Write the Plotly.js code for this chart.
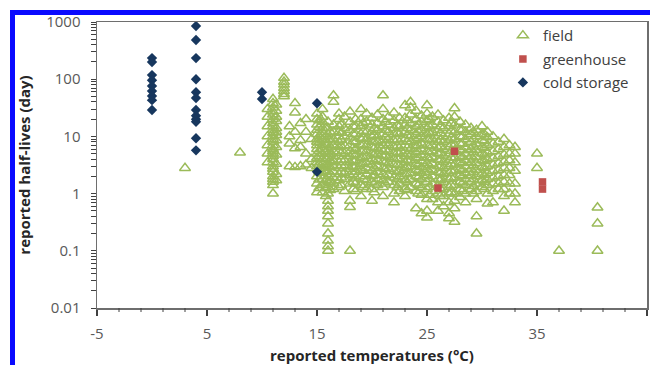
<!DOCTYPE html>
<html><head><meta charset="utf-8">
<script src="https://cdn.plot.ly/plotly-3.0.1.min.js"></script>
<style>
html,body{margin:0;padding:0;background:#fff;overflow:hidden;width:650px;height:365px;}
#chart{position:absolute;left:0;top:0;width:650px;height:365px;}
#frame{position:absolute;left:10px;top:10px;width:700px;height:400px;border-left:5px solid #0a0aff;border-top:5px solid #0a0aff;pointer-events:none;}
</style></head><body>
<div id="chart"></div><div id="frame"></div>
<script>
// ---- data ----
const fieldColumnTemps = [3, 8, 10.5, 11, 12, 12.5, 13, 13.5, 14, 14.5, 15, 15.5, 16, 16.5, 17, 17.5, 18, 18.5, 19, 19.5,
  20, 20.5, 21, 21.5, 22, 22.5, 23, 23.5, 24, 24.5, 25, 25.5, 26, 26.5, 27, 27.5, 28, 28.5, 29, 29.5,
  30, 30.5, 31, 31.5, 32, 32.5, 33, 35, 37, 40.5,
  15.8, 16.2, 17.2, 18.3, 19.2, 20.2, 21.2, 22.3, 23.2, 24.2, 25.2, 26.2, 27.2, 28.2, 29.2, 30.2, 11.3, 15.2];
const fieldColumnHalfLives = [
  [2.8],
  [5.2],
  [30, 22, 15, 10, 7, 5, 3.5],
  [45, 38, 32, 27, 24, 20, 17, 15, 13, 11.5, 10, 9, 8, 7, 6, 5.5, 5, 4.5, 4, 3.5, 3, 2.7, 2.4, 2, 1.8, 1.6, 1.4, 1.0],
  [105, 90, 80, 70, 62, 55, 50],
  [15, 10, 7.5, 3],
  [38, 26, 12, 6.2, 2.9],
  [17, 8.6, 6.5, 3],
  [20, 12, 5, 3.2],
  [9, 4, 2.8],
  [25, 20, 16, 13, 11, 9, 8, 7, 6, 5, 4.2, 3.5, 3, 2, 1.5, 1.05],
  [30, 22, 18, 14, 12, 10, 8.5, 7, 6, 5, 4, 3.3, 2.8, 2.3, 1.8, 1.4, 1.05],
  [18, 14, 11, 9, 7.5, 6, 5, 4.2, 3.5, 3, 2.5, 2, 1.6, 1.3, 1.0, 0.75, 0.6, 0.5, 0.4, 0.3, 0.2, 0.15, 0.12, 0.1],
  [52, 40, 16, 12, 9, 7, 5.5, 4.5, 3.7, 3, 2.4, 1.9, 1.5, 1.2],
  [25, 20, 15, 12, 10, 8, 6.5, 5.5, 4.5, 3.5, 2.8, 2.2, 1.7, 1.3],
  [22, 14, 10, 7, 5, 3.8, 3, 2.3, 1.8, 1.1],
  [27, 18, 13, 9.5, 7, 5.5, 4.5, 3.5, 2.7, 2.1, 1.5, 0.75, 0.58, 0.1],
  [20, 15, 11, 8, 6, 4.8, 3.8, 3, 2.4, 1.9, 1.5, 1.1],
  [30, 20, 15, 11, 9, 7, 5.5, 4.2, 3.3, 2.6, 2, 1.4, 0.9],
  [25, 18, 12, 9, 7, 5.5, 4.5, 3.5, 2.8, 2.2, 1.7, 1.2],
  [21, 16, 12, 10, 8, 6.5, 5, 4, 3.2, 2.5, 2, 1.6, 1.2, 0.75],
  [24, 17, 13, 10, 8, 6, 4.8, 3.8, 3, 2.4, 1.8, 1.4],
  [52, 30, 20, 15, 11, 8.5, 7, 5.5, 4.5, 3.6, 2.8, 2.2, 1.7, 1.3, 0.9],
  [22, 16, 12, 9, 7, 5.5, 4.3, 3.4, 2.7, 2.1, 1.6],
  [26, 19, 14, 11, 8.5, 6.5, 5, 4, 3.2, 2.5, 1.9, 1.4, 1.0, 0.7],
  [21, 15, 11, 8, 6.3, 5, 4, 3.1, 2.5, 2, 1.5, 1.1],
  [35, 21, 16, 12, 9, 7, 5.5, 4.5, 3.5, 2.8, 2.2, 1.7, 1.2, 0.9],
  [40, 32, 24, 17, 13, 10, 8, 6, 4.8, 3.8, 3, 2.3, 1.8, 1.3],
  [28, 20, 15, 11, 8.5, 6.8, 5.3, 4.2, 3.3, 2.6, 2, 1.5, 1.1, 0.55],
  [23, 18, 13, 10, 7.5, 6, 4.7, 3.7, 2.9, 2.3, 1.8, 1.3, 0.95, 0.45],
  [35, 25, 19, 14, 11, 9, 7, 5.5, 4.3, 3.4, 2.7, 2.1, 1.6, 1.2, 0.8, 0.5, 0.38],
  [22, 16, 12, 9, 7, 5.5, 4.3, 3.3, 2.6, 2, 1.5, 1.1, 0.8],
  [24, 18, 13, 10, 8, 6.3, 5, 3.9, 3, 2.4, 1.8, 1.4, 1.0, 0.7, 0.5],
  [19, 14, 10, 8, 6, 4.6, 3.6, 2.8, 2.2, 1.6, 1.2, 0.9, 0.6],
  [21, 15, 11, 8.5, 6.5, 5, 3.8, 3, 2.3, 1.8, 1.3, 1.0, 0.7, 0.45, 0.37],
  [31, 22, 16, 12, 9, 7, 5.5, 4.2, 3.2, 2.5, 1.9, 1.4, 1.0, 0.75, 0.55, 0.32],
  [18, 13, 10, 7.5, 5.8, 4.5, 3.5, 2.7, 2.1, 1.6, 1.2, 0.87],
  [16, 12, 9, 6.5, 5, 3.8, 3, 2.3, 1.8, 1.4, 1.0, 0.7],
  [14, 11, 8, 6, 4.5, 3.5, 2.7, 2.1, 1.6, 1.2],
  [13, 10, 7.5, 5.8, 4.4, 3.4, 2.6, 2, 1.5, 1.1, 0.8, 0.4, 0.2],
  [15, 11, 8.5, 6.5, 5, 3.8, 2.9, 2.2, 1.7, 1.3],
  [12, 9.6, 7, 5.2, 4, 3, 2.3, 1.8, 1.4, 1.0, 0.67],
  [10, 7.5, 5.5, 4.2, 3.2, 2.5, 1.9, 1.5, 1.1, 0.7],
  [8, 6, 4.5, 3.4, 2.6, 2, 1.5, 1.2],
  [9, 6.5, 4.8, 3.6, 2.8, 2.1, 1.6, 1.2, 0.9, 0.5],
  [7, 5, 3.8, 2.8, 2.1, 1.5, 1.0],
  [6.5, 5, 3.5, 2.5, 1.5, 1.0, 0.7],
  [5, 2.8],
  [0.1],
  [0.57, 0.3, 0.1],
  [14, 10, 7.2, 5.4, 4.1, 3.1, 2.4, 1.7, 1.25, 0.9],
  [12, 8.8, 6.6, 4.9, 3.8, 2.9, 2.2, 1.6, 1.15],
  [16, 11.5, 8.7, 6.7, 5.1, 3.9, 3.1, 2.4, 1.9, 1.4],
  [15, 11, 8.2, 6.3, 4.9, 3.7, 2.9, 2.2, 1.6, 1.2],
  [17, 12.5, 9.4, 7.2, 5.6, 4.3, 3.3, 2.5, 1.8, 1.3],
  [14, 10.5, 8, 6.2, 4.8, 3.7, 2.8, 2.1, 1.5, 1.05],
  [18, 13, 9.8, 7.6, 5.9, 4.6, 3.5, 2.7, 2, 1.5],
  [15.5, 11.5, 8.8, 6.8, 5.2, 4.1, 3.2, 2.4, 1.8, 1.3],
  [19, 14, 10.5, 8.2, 6.3, 4.9, 3.8, 2.9, 2.2, 1.6, 1.15],
  [16, 12, 9.2, 7, 5.4, 4.2, 3.2, 2.5, 1.9, 1.4, 1.0],
  [20, 15, 11.5, 8.8, 6.8, 5.3, 4.1, 3.1, 2.4, 1.8, 1.3, 0.95],
  [15, 11.3, 8.6, 6.6, 5.1, 3.9, 3, 2.3, 1.7, 1.25, 0.9],
  [17, 12.6, 9.5, 7.3, 5.6, 4.3, 3.3, 2.5, 1.9, 1.4, 1.05],
  [13, 9.8, 7.4, 5.7, 4.4, 3.4, 2.6, 2, 1.5, 1.1],
  [12, 9, 6.9, 5.3, 4.1, 3.1, 2.4, 1.8, 1.35, 1.0],
  [11, 8.3, 6.3, 4.8, 3.7, 2.8, 2.1, 1.6, 1.2],
  [36, 28, 22, 18.5, 14, 12, 10.5, 8.5, 6.5, 4.8, 3.3, 2.2, 1.7],
  [19, 14.5, 10, 7.8, 5.5, 4.5, 3.2, 2.4, 1.75, 1.25]
];
const greenhouseTemps = [26, 27.5, 35.5, 35.5];
const greenhouseHalfLives = [1.25, 5.5, 1.6, 1.2];
const coldTemps = [0, 0, 0, 0, 0, 0, 0, 0, 0,
  4, 4, 4, 4, 4, 4, 4, 4, 4, 4, 4, 4,
  10, 10, 15, 15];
const coldHalfLives = [234, 200, 118, 96, 76, 62, 51, 43, 29,
  850, 484, 234, 100, 59, 47, 29, 23, 20, 18, 9.3, 5.7,
  59, 45, 38, 2.4];
const seriesNames = ['field', 'greenhouse', 'cold storage'];
const xTickVals = [-5, 5, 15, 25, 35, 45];
const xTickText = ['-5', '5', '15', '25', '35', '45'];
const yTickVals = [0.01, 0.1, 1, 10, 100, 1000];
const yTickText = ['0.01', '0.1', '1', '10', '100', '1000'];

// flatten field columns
const fieldTemps = [], fieldHalfLives = [];
fieldColumnTemps.forEach((t, i) => {
  fieldColumnHalfLives[i].forEach(v => { fieldTemps.push(t); fieldHalfLives.push(v); });
});

// x minor tick positions derived from the major ticks
const xMinor = [];
for (let i = 0; i < xTickVals.length - 1; i++) {
  for (let k = 1; k < 5; k++) xMinor.push(xTickVals[i] + k * (xTickVals[i + 1] - xTickVals[i]) / 5);
}
// y axis: major + unlabeled minor ticks (2..9 per decade) drawn by the axis itself
const yAllTickVals = [], yAllTickText = [];
for (let i = 0; i < yTickVals.length; i++) {
  yAllTickVals.push(yTickVals[i]); yAllTickText.push(yTickText[i]);
  if (i < yTickVals.length - 1) {
    for (let k = 2; k < 10; k++) { yAllTickVals.push(yTickVals[i] * k); yAllTickText.push(''); }
  }
}

const axisGray = '#6e6e6e';
const tickDark = '#404040';
const fieldGreen = '#9BBB59';
const traces = [
  {type: 'scatter', mode: 'markers', name: seriesNames[0], legendgroup: 'a',
   x: fieldTemps, y: fieldHalfLives,
   marker: {symbol: 'triangle-up-open', size: 9.5, color: fieldGreen, line: {width: 1.5, color: fieldGreen}}},
  {type: 'scatter', mode: 'markers', name: seriesNames[1], legendgroup: 'b',
   x: greenhouseTemps, y: greenhouseHalfLives,
   marker: {symbol: 'square', size: 7.5, color: '#C0504D'}},
  {type: 'scatter', mode: 'markers', name: seriesNames[2], legendgroup: 'c',
   x: coldTemps, y: coldHalfLives,
   marker: {symbol: 'diamond', size: 8, color: '#17375E'}}
];

// x minor ticks as short line shapes (axis decoration)
const shapes = [];
xMinor.forEach(v => shapes.push({type: 'line', xref: 'x', yref: 'paper', x0: v, x1: v, y0: 0, y1: -4 / 286,
  line: {color: tickDark, width: 1}, layer: 'above'}));

const layout = {
  width: 650, height: 365,
  margin: {l: 97, r: 3, t: 22, b: 57, pad: 0},
  paper_bgcolor: '#ffffff', plot_bgcolor: '#ffffff',
  font: {family: '"Open Sans", sans-serif', color: '#595959', size: 13},
  showlegend: true,
  legend: {x: 0.738, xanchor: 'left', y: 1.01, yanchor: 'top', bgcolor: 'rgba(0,0,0,0)',
    font: {size: 15, color: '#404040'}, traceorder: 'grouped', tracegroupgap: 1},
  shapes: shapes,
  xaxis: {
    range: [-5, 45], tickmode: 'array', tickvals: xTickVals, ticktext: xTickText,
    ticks: 'outside', ticklen: 6, tickcolor: tickDark, tickwidth: 1.2,
    showline: true, linecolor: axisGray, linewidth: 1.5, mirror: true,
    showgrid: false, zeroline: false, automargin: false, ticklabelstandoff: 5,
    tickfont: {size: 15, color: '#595959'},
    title: {text: '<b>reported temperatures (°C)</b>', font: {size: 15, color: '#262626'}, standoff: 9}
  },
  yaxis: {
    type: 'log', range: [-2, 3], tickmode: 'array', tickvals: yAllTickVals, ticktext: yAllTickText,
    ticks: 'outside', ticklen: 5, tickcolor: tickDark, tickwidth: 1,
    showline: true, linecolor: axisGray, linewidth: 1.5, mirror: true,
    showgrid: false, zeroline: false, automargin: false, ticklabelstandoff: 7,
    tickfont: {size: 15, color: '#595959'},
    title: {text: '<b>reported half-lives (day)</b>', font: {size: 15, color: '#262626'}, standoff: 12}
  }
};

Plotly.newPlot('chart', traces, layout, {displayModeBar: false, staticPlot: true});
</script></body></html>
